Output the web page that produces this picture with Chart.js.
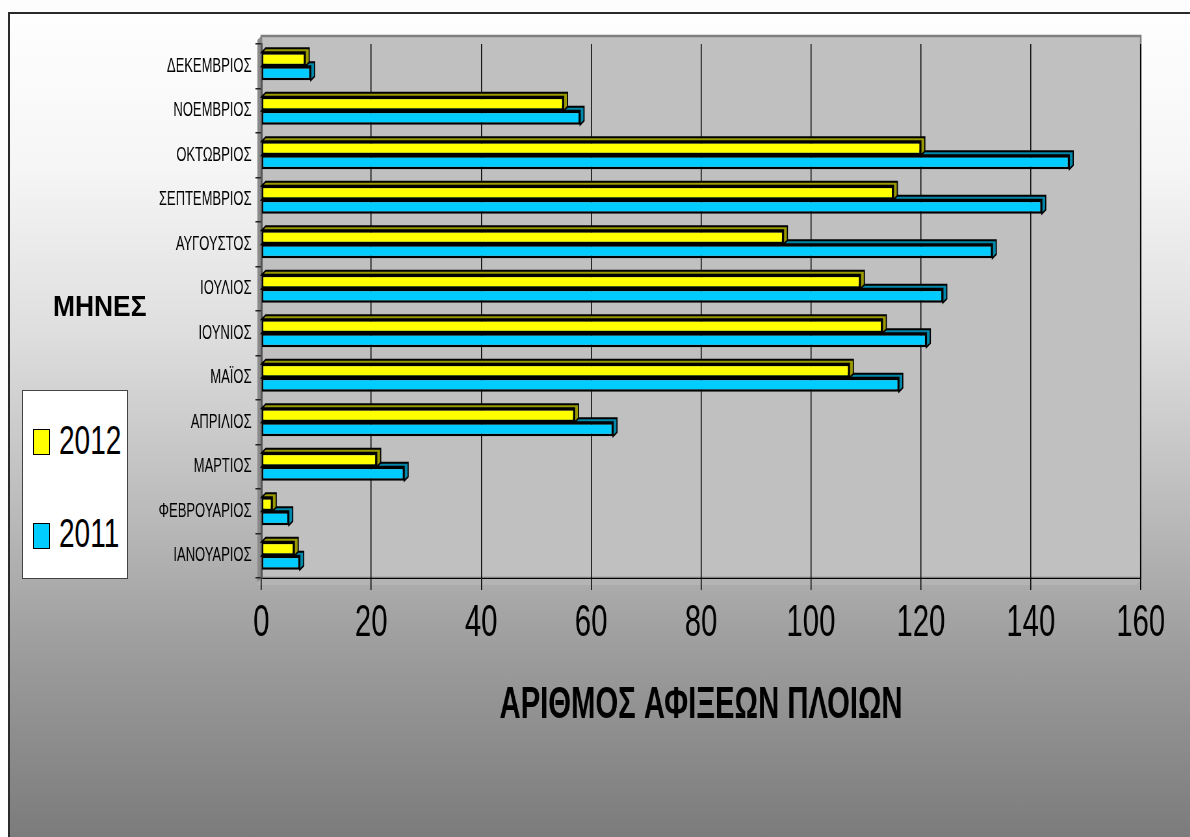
<!DOCTYPE html>
<html lang="el">
<head>
  <meta charset="UTF-8" />
  <title>Αφίξεις πλοίων</title>
  <script src="https://cdn.jsdelivr.net/npm/chart.js"></script>
  <style>
    * { box-sizing: border-box; }
    body {
      margin: 0;
      width: 1190px;
      height: 837px;
      overflow: hidden;
      background: #fdfdfd;
      font-family: 'Liberation Sans', Arial, sans-serif;
      position: relative;
    }
    #frame {
      position: absolute;
      left: 8px;
      top: 12px;
      width: 1200px;
      height: 840px;
      border: 2px solid #2a2a2a;
      background: linear-gradient(to bottom, #fefefe 0px, #f6f6f6 150px, #dedede 320px, #b8b8b8 510px, #9c9c9c 640px, #7b7b7b 825px);
    }
    /* the picture is narrow and tall, so the chart is drawn wider and squeezed */
    #chart {
      position: absolute;
      left: 0;
      top: 0;
      transform: scaleX(0.65);
      transform-origin: 0 0;
    }
    #ytitle {
      position: absolute;
      left: 53px;
      top: 291px;
      font-weight: bold;
      font-size: 30px;
      line-height: 30px;
      color: #000;
      white-space: nowrap;
      transform: scaleX(0.88);
      transform-origin: 0 0;
    }
    #legend {
      position: absolute;
      left: 22px;
      top: 390px;
      width: 106px;
      height: 189px;
      background: #fff;
      border: 1px solid #444;
    }
    .sw {
      position: absolute;
      left: 10px;
      width: 17px;
      height: 26px;
      border: 1px solid #000;
    }
    .lt {
      position: absolute;
      left: 36px;
      font-size: 40px;
      line-height: 40px;
      color: #000;
      white-space: nowrap;
      transform: scaleX(0.7);
      transform-origin: 0 0;
    }
  </style>
</head>
<body>
  <div id="frame"></div>
  <canvas id="chart" width="1831" height="837"></canvas>
  <div id="ytitle">ΜΗΝΕΣ</div>
  <div id="legend">
    <div class="sw" style="top:38px; background:#ffff00"></div>
    <div class="lt" style="top:29px">2012</div>
    <div class="sw" style="top:132px; background:#00ccff"></div>
    <div class="lt" style="top:122px">2011</div>
  </div>

  <script>
    // months, top to bottom as on the chart
    const months = ['ΔΕΚΕΜΒΡΙΟΣ', 'ΝΟΕΜΒΡΙΟΣ', 'ΟΚΤΩΒΡΙΟΣ', 'ΣΕΠΤΕΜΒΡΙΟΣ', 'ΑΥΓΟΥΣΤΟΣ', 'ΙΟΥΛΙΟΣ',
                    'ΙΟΥΝΙΟΣ', 'ΜΑΪΟΣ', 'ΑΠΡΙΛΙΟΣ', 'ΜΑΡΤΙΟΣ', 'ΦΕΒΡΟΥΑΡΙΟΣ', 'ΙΑΝΟΥΑΡΙΟΣ'];
    const arrivals2012 = [8, 55, 120, 115, 95, 109, 113, 107, 57, 21, 2, 6];
    const arrivals2011 = [9, 58, 147, 142, 133, 124, 121, 116, 64, 26, 5, 7];
    const xTicks = [0, 20, 40, 60, 80, 100, 120, 140, 160];

    const FONT = "'Liberation Sans', Arial, sans-serif";
    const DX = 6;  // depth, in the squeezed units
    const DY = 4;

    // grey back wall, left wall and floor
    const wallPlugin = {
      id: 'walls',
      beforeDraw(chart) {
        const { ctx, chartArea: a } = chart;
        ctx.save();
        ctx.fillStyle = '#c0c0c0';
        ctx.fillRect(a.left, a.top - 8, a.right - a.left, a.bottom - a.top + 8);
        ctx.strokeStyle = '#808080';
        ctx.lineWidth = 2.5;
        ctx.strokeRect(a.left, a.top - 8, a.right - a.left, a.bottom - a.top + 8);
        // left wall
        ctx.fillStyle = '#8a8a8a';
        ctx.beginPath();
        ctx.moveTo(a.left - DX, a.top - 8 + DY);
        ctx.lineTo(a.left, a.top - 8);
        ctx.lineTo(a.left, a.bottom);
        ctx.lineTo(a.left - DX, a.bottom + DY);
        ctx.closePath();
        ctx.fill();
        // floor
        ctx.fillStyle = '#b4b4b4';
        ctx.beginPath();
        ctx.moveTo(a.left, a.bottom);
        ctx.lineTo(a.right, a.bottom);
        ctx.lineTo(a.right - DX, a.bottom + DY + 3);
        ctx.lineTo(a.left - DX, a.bottom + DY + 3);
        ctx.closePath();
        ctx.fill();
        ctx.restore();
      }
    };

    // darker top and right faces of the bars
    const depthPlugin = {
      id: 'depth',
      beforeDatasetsDraw(chart) {
        const { ctx } = chart;
        ctx.save();
        for (let d = chart.data.datasets.length - 1; d >= 0; d--) {
          const meta = chart.getDatasetMeta(d);
          const shade = chart.data.datasets[d].shade;
          meta.data.forEach(bar => {
            const { x, y, base, height } = bar.getProps(['x', 'y', 'base', 'height'], true);
            const top = y - height / 2;
            const bottom = y + height / 2;
            ctx.fillStyle = shade;
            ctx.strokeStyle = '#000';
            ctx.lineWidth = 1.8;
            ctx.beginPath();
            ctx.moveTo(base, top);
            ctx.lineTo(base + DX, top - DY);
            ctx.lineTo(x + DX, top - DY);
            ctx.lineTo(x + DX, bottom - DY);
            ctx.lineTo(x, bottom);
            ctx.lineTo(x, top);
            ctx.closePath();
            ctx.fill();
            ctx.stroke();
          });
        }
        ctx.restore();
      }
    };

    new Chart(document.getElementById('chart'), {
      type: 'bar',
      data: {
        labels: months,
        datasets: [{
          label: '2012',
          data: arrivals2012,
          backgroundColor: '#ffff00',
          shade: '#9a9a00',
          borderColor: '#000',
          borderWidth: 2.5,
          borderSkipped: false
        }, {
          label: '2011',
          data: arrivals2011,
          backgroundColor: '#00ccff',
          shade: '#0088aa',
          borderColor: '#000',
          borderWidth: 2.5,
          borderSkipped: false
        }]
      },
      options: {
        indexAxis: 'y',
        responsive: false,
        animation: false,
        layout: { padding: { left: 0, right: 76, top: 44, bottom: 104 } },
        categoryPercentage: 0.63,
        barPercentage: 1,
        plugins: {
          legend: { display: false },
          tooltip: { enabled: false }
        },
        scales: {
          x: {
            min: 0,
            max: 160,
            afterBuildTicks: s => { s.ticks = xTicks.map(v => ({ value: v })); },
            afterFit: s => { s.height = 155; },
            grid: { color: '#000', lineWidth: 1.5, tickLength: 12, tickColor: '#000' },
            border: { color: '#000', width: 1 },
            ticks: { color: '#000', padding: 7, font: { family: FONT, size: 45 } },
            title: {
              display: true,
              text: 'ΑΡΙΘΜΟΣ ΑΦΙΞΕΩΝ ΠΛΟΙΩΝ',
              color: '#000',
              padding: { top: 26, bottom: 0 },
              font: { family: FONT, size: 45, weight: 'bold' }
            }
          },
          y: {
            afterFit: s => { s.width = 402; },
            grid: { drawOnChartArea: false, offset: true, tickLength: 9, color: '#222', lineWidth: 1.5 },
            border: { color: '#555', width: 3 },
            ticks: { color: '#000', padding: 6, font: { family: FONT, size: 20 } }
          }
        }
      },
      plugins: [wallPlugin, depthPlugin]
    });
  </script>
</body>
</html>
